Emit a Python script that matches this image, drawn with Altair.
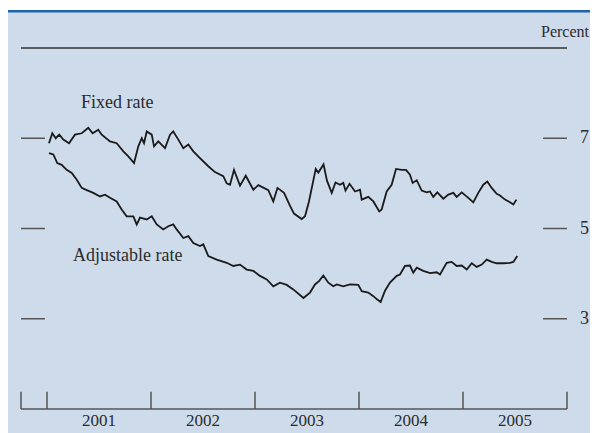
import altair as alt
import pandas as pd

# ---- data (decimal years, percent) ----
fixed_t = [2001.019, 2001.051, 2001.084, 2001.118, 2001.157, 2001.212, 2001.269, 2001.334,
           2001.397, 2001.439, 2001.493, 2001.526, 2001.606, 2001.670, 2001.734, 2001.782,
           2001.837, 2001.878, 2001.911, 2001.933, 2001.959, 2002.007, 2002.029, 2002.070,
           2002.135, 2002.183, 2002.214, 2002.263, 2002.311, 2002.359, 2002.407, 2002.471,
           2002.551, 2002.615, 2002.695, 2002.728, 2002.760, 2002.798, 2002.856, 2002.911,
           2002.984, 2003.032, 2003.128, 2003.176, 2003.216, 2003.279, 2003.337, 2003.375,
           2003.449, 2003.481, 2003.519, 2003.584, 2003.609, 2003.659, 2003.692, 2003.738,
           2003.774, 2003.817, 2003.849, 2003.870, 2003.909, 2003.962, 2004.010, 2004.026,
           2004.089, 2004.138, 2004.195, 2004.218, 2004.266, 2004.314, 2004.356, 2004.411,
           2004.452, 2004.490, 2004.516, 2004.555, 2004.603, 2004.651, 2004.683, 2004.714,
           2004.753, 2004.811, 2004.859, 2004.907, 2004.939, 2004.988, 2005.051, 2005.099,
           2005.147, 2005.195, 2005.234, 2005.276, 2005.324, 2005.356, 2005.404, 2005.452,
           2005.484, 2005.514]
fixed_v = [6.89, 7.11, 7.00, 7.08, 6.97, 6.89, 7.08, 7.11,
           7.23, 7.11, 7.19, 7.08, 6.93, 6.89, 6.71, 6.60,
           6.45, 6.82, 7.00, 6.89, 7.15, 7.08, 6.82, 6.93,
           6.78, 7.08, 7.15, 6.97, 6.78, 6.86, 6.71, 6.56,
           6.38, 6.25, 6.16, 6.00, 5.97, 6.30, 5.95, 6.17,
           5.86, 5.96, 5.85, 5.60, 5.90, 5.79, 5.50, 5.33,
           5.21, 5.27, 5.60, 6.32, 6.24, 6.42, 6.06, 5.79,
           6.02, 5.97, 6.01, 5.84, 5.99, 5.82, 5.86, 5.64,
           5.70, 5.60, 5.38, 5.42, 5.82, 5.97, 6.32, 6.30,
           6.30, 6.19, 6.01, 6.07, 5.84, 5.80, 5.82, 5.70,
           5.80, 5.66, 5.75, 5.79, 5.70, 5.80, 5.68, 5.58,
           5.79, 5.97, 6.04, 5.90, 5.77, 5.73, 5.64, 5.58,
           5.53, 5.64]

adj_t = [2001.019, 2001.061, 2001.099, 2001.141, 2001.189, 2001.238, 2001.286, 2001.334,
         2001.382, 2001.445, 2001.510, 2001.558, 2001.606, 2001.670, 2001.718, 2001.766,
         2001.830, 2001.863, 2001.894, 2001.959, 2002.007, 2002.055, 2002.118, 2002.166,
         2002.214, 2002.247, 2002.311, 2002.359, 2002.407, 2002.471, 2002.503, 2002.551,
         2002.632, 2002.728, 2002.791, 2002.856, 2002.920, 2002.984, 2003.048, 2003.113,
         2003.176, 2003.240, 2003.305, 2003.368, 2003.466, 2003.529, 2003.577, 2003.618,
         2003.657, 2003.705, 2003.753, 2003.786, 2003.849, 2003.913, 2003.993, 2004.026,
         2004.089, 2004.138, 2004.173, 2004.208, 2004.250, 2004.298, 2004.363, 2004.394,
         2004.442, 2004.490, 2004.522, 2004.555, 2004.618, 2004.683, 2004.747, 2004.779,
         2004.843, 2004.891, 2004.939, 2004.988, 2005.036, 2005.084, 2005.132, 2005.180,
         2005.228, 2005.276, 2005.324, 2005.388, 2005.452, 2005.484, 2005.522]
adj_v = [6.67, 6.64, 6.45, 6.41, 6.30, 6.23, 6.08, 5.90,
         5.85, 5.79, 5.71, 5.75, 5.68, 5.60, 5.42, 5.27,
         5.27, 5.09, 5.24, 5.20, 5.27, 5.09, 4.98, 5.05,
         5.09, 4.98, 4.79, 4.83, 4.68, 4.61, 4.65, 4.39,
         4.31, 4.24, 4.17, 4.20, 4.09, 4.06, 3.95, 3.87,
         3.72, 3.80, 3.75, 3.65, 3.46, 3.58, 3.76, 3.84,
         3.96, 3.80, 3.72, 3.76, 3.72, 3.76, 3.75, 3.61,
         3.58, 3.50, 3.43, 3.37, 3.62, 3.80, 3.95, 3.98,
         4.17, 4.18, 4.02, 4.13, 4.06, 4.01, 4.03, 3.98,
         4.24, 4.26, 4.17, 4.18, 4.09, 4.23, 4.15, 4.20,
         4.31, 4.26, 4.23, 4.23, 4.24, 4.26, 4.39]

years = [2001, 2002, 2003, 2004, 2005]
year_bounds = [2000.75, 2001, 2002, 2003, 2004, 2005, 2006]
y_ticks = [3, 5, 7]

series_labels = ["Fixed rate", "Adjustable rate"]
label_t = [2001.327, 2001.25]
label_v = [7.674, 4.271]

# ---- frames ----
lines_df = pd.concat([
    pd.DataFrame({"t": fixed_t, "v": fixed_v, "s": "Fixed rate"}),
    pd.DataFrame({"t": adj_t, "v": adj_v, "s": "Adjustable rate"}),
], ignore_index=True)
years_df = pd.DataFrame({"mid": [y + 0.5 for y in years], "label": [str(y) for y in years]})
bounds_df = pd.DataFrame({"b": year_bounds, "y0": [1.0] * len(year_bounds), "y1": [1.38] * len(year_bounds)})
ticks_df = pd.DataFrame({"val": y_ticks, "lab": [str(v) for v in y_ticks],
                         "l0": [2000.75] * 3, "l1": [2000.98] * 3,
                         "r0": [2005.77] * 3, "r1": [2006.0] * 3})
labels_df = pd.DataFrame({"label": series_labels, "t": label_t, "v": label_v})
frame_df = pd.DataFrame({"x0": [2000.75], "x1": [2006.0], "top": [9.0], "bottom": [1.0],
                         "txt": ["Percent"]})

W, H = 546, 361
xs = alt.Scale(domain=[2000.75, 2006.0], nice=False, zero=False)
ys = alt.Scale(domain=[1, 9], nice=False, zero=False)
FONT = "Liberation Serif"
TXT = "#2b2b2b"
GRAY = "#555555"

lines = alt.Chart(lines_df).mark_line(color="#1a1a1a", strokeWidth=1.8).encode(
    x=alt.X("t:Q", scale=xs, axis=None),
    y=alt.Y("v:Q", scale=ys, axis=None),
    detail="s:N",
)

top_rule = alt.Chart(frame_df).mark_rule(color="#333333", strokeWidth=1.3).encode(
    x=alt.X("x0:Q", scale=xs, axis=None), x2=alt.X2("x1"), y=alt.Y("top:Q", scale=ys, axis=None))
bottom_rule = alt.Chart(frame_df).mark_rule(color=GRAY, strokeWidth=1.5).encode(
    x=alt.X("x0:Q", scale=xs, axis=None), x2=alt.X2("x1"), y=alt.Y("bottom:Q", scale=ys, axis=None))

white_rule = alt.Chart(frame_df).mark_rule(color="#ffffff", strokeWidth=2).encode(
    x=alt.value(-14), x2=alt.value(W + 40), y=alt.value(-39))
blue_rule = alt.Chart(frame_df).mark_rule(color="#1f64ab", strokeWidth=2.6).encode(
    x=alt.value(-14), x2=alt.value(W + 40), y=alt.value(-36.8))

year_ticks = alt.Chart(bounds_df).mark_rule(color=GRAY, strokeWidth=1.5).encode(
    x=alt.X("b:Q", scale=xs, axis=None), y=alt.Y("y0:Q", scale=ys, axis=None), y2=alt.Y2("y1"))

year_labels = alt.Chart(years_df).mark_text(font=FONT, fontSize=17, color=TXT,
                                            baseline="alphabetic", align="center").encode(
    x=alt.X("mid:Q", scale=xs, axis=None), y=alt.value(378), text=alt.Text("label:N"))

left_ticks = alt.Chart(ticks_df).mark_rule(color=GRAY, strokeWidth=1.5).encode(
    x=alt.X("l0:Q", scale=xs, axis=None), x2=alt.X2("l1"), y=alt.Y("val:Q", scale=ys, axis=None))
right_ticks = alt.Chart(ticks_df).mark_rule(color=GRAY, strokeWidth=1.5).encode(
    x=alt.X("r0:Q", scale=xs, axis=None), x2=alt.X2("r1"), y=alt.Y("val:Q", scale=ys, axis=None))
tick_labels = alt.Chart(ticks_df).mark_text(font=FONT, fontSize=18, color=TXT,
                                            align="left", baseline="middle").encode(
    x=alt.value(W + 13), y=alt.Y("val:Q", scale=ys, axis=None), text=alt.Text("lab:N"))

percent = alt.Chart(frame_df).mark_text(font=FONT, fontSize=16, color=TXT, align="right",
                                        baseline="alphabetic").encode(
    x=alt.value(W + 22), y=alt.value(-11.5), text=alt.Text("txt:N"))

series_text = alt.Chart(labels_df).mark_text(font=FONT, fontSize=18, color=TXT,
                                             align="left", baseline="alphabetic").encode(
    x=alt.X("t:Q", scale=xs, axis=None), y=alt.Y("v:Q", scale=ys, axis=None), text=alt.Text("label:N"))

chart = alt.layer(
    white_rule, blue_rule, top_rule, bottom_rule, year_ticks, left_ticks, right_ticks,
    lines, series_text, tick_labels, year_labels, percent,
).properties(
    width=W, height=H,
    autosize=alt.AutoSizeParams(type="none"),
    padding={"left": 13, "top": 40, "right": 23, "bottom": 24},
    background="#cedbeb",
).configure_view(stroke=None)

chart.save("out.html", embed_options={"renderer": "svg", "actions": False})
